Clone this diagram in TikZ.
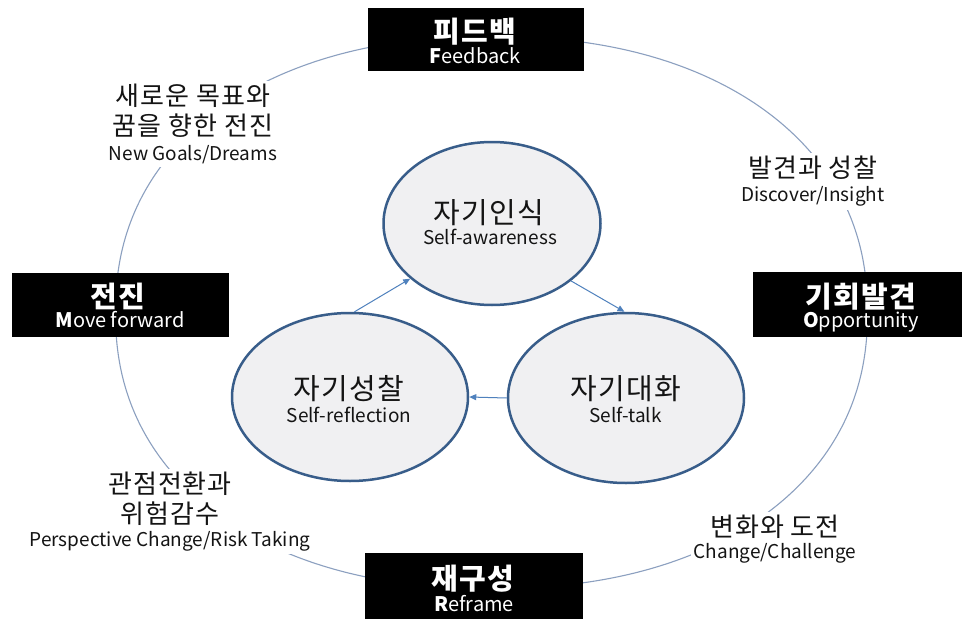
\documentclass[tikz,border=0pt]{standalone}
\usepackage{fontspec}
\setmainfont{Noto Sans CJK KR}
\newfontfamily\kof[LetterSpace=4]{Noto Sans CJK KR}
\usetikzlibrary{shapes.geometric,arrows.meta}
\definecolor{ellfill}{RGB}{240,240,242}
\definecolor{elldraw}{RGB}{56,93,138}
\definecolor{arrcol}{RGB}{79,129,189}
\definecolor{outercol}{RGB}{140,160,192}
\definecolor{txt}{RGB}{20,20,20}
\tikzset{
  outer/.style={draw=outercol, line width=1.1pt},
  blackbox/.style={fill=black, draw=none, inner sep=0pt},
  boxko/.style={text=white, font=\fontsize{29}{32}\selectfont\kof\bfseries, inner sep=0pt, text height=24pt, text depth=2pt},
  boxen/.style={text=white, font=\fontsize{20}{22}\selectfont, inner sep=0pt, text height=14.5pt, text depth=4pt},
  selfell/.style={ellipse, draw=elldraw, fill=ellfill, line width=2.5pt, inner sep=0pt},
  ellko/.style={text=txt, font=\fontsize{29}{32}\selectfont\kof, inner sep=0pt, text height=24pt, text depth=2pt},
  ellen/.style={text=txt, font=\fontsize{19}{22}\selectfont, inner sep=0pt, text height=14pt, text depth=4pt},
  lbl/.style={text=txt, fill=white, inner sep=3pt, align=center, font=\fontsize{26}{29.5}\selectfont\kof},
  arr/.style={draw=arrcol, line width=1pt, -{Triangle[length=7pt,width=6pt]}},
}
\newcommand{\enl}{\fontsize{19}{22}\selectfont\rmfamily}
\begin{document}
\begin{tikzpicture}[x=1pt,y=-1pt]
\useasboundingbox (0,0) rectangle (962,621);
\fill[white] (0,0) rectangle (962,621);
% outer cycle
\draw[outer] plot[domain=0.5:360.5, samples=181, smooth]
  ({491.5 + 376*cos(\x)*pow(abs(cos(\x)),-0.0909)}, {312.5 + 276*sin(\x)*pow(abs(sin(\x)),-0.0909)}) -- cycle;
% labels on the cycle
\node[lbl] (ng) at (193,124) {새로운 목표와\\꿈을 향한 전진\\[-4.5pt]{\enl New Goals/Dreams}};
\node[lbl] (di) at (813,181.5) {발견과 성찰\\[-5.5pt]{\enl Discover/Insight}};
\node[lbl] (pc) at (170,511.5) {관점전환과\\위험감수\\[-6.5pt]{\enl Perspective Change/Risk Taking}};
\node[lbl] (ch) at (775,539) {변화와 도전\\[-7pt]{\enl Change/Challenge}};
% black boxes
\node[blackbox, minimum width=216pt, minimum height=63pt] (fb) at (476,39.5) {};
\node[boxko] (fbk) at (475,31) {피드백};
\node[boxen] (fbe) at (475,58) {\textbf{F}eedback};
\node[blackbox, minimum width=217pt, minimum height=64pt] (mf) at (120.5,305) {};
\node[boxko] (mfk) at (118,296.5) {전진};
\node[boxen] (mfe) at (120,322) {\textbf{M}ove forward};
\node[blackbox, minimum width=209pt, minimum height=65pt] (op) at (857.5,304.5) {};
\node[boxko] (opk) at (861,296) {기회발견};
\node[boxen] (ope) at (861,322) {\textbf{O}pportunity};
\node[blackbox, minimum width=218pt, minimum height=66pt] (rf) at (474,586) {};
\node[boxko] (rfk) at (473,578.5) {재구성};
\node[boxen] (rfe) at (474,606) {\textbf{R}eframe};
% inner ellipses
\node[selfell, minimum width=217pt, minimum height=163pt] (aw) at (492,223.5) {};
\node[ellko] (awk) at (489,212.5) {자기인식};
\node[ellen] (awe) at (490,239.5) {Self-awareness};
\node[selfell, minimum width=236pt, minimum height=168pt] (refl) at (350,397) {};
\node[ellko] (reflk) at (349,388.5) {자기성찰};
\node[ellen] (refle) at (349,417) {Self-reflection};
\node[selfell, minimum width=236pt, minimum height=170pt] (talk) at (626,398) {};
\node[ellko] (talkk) at (626,388.5) {자기대화};
\node[ellen] (talke) at (625.5,417) {Self-talk};
% arrows
\draw[arr] (refl.87) -- (aw.214);
\draw[arr] (aw.324) -- (talk.91);
\draw[arr] (talk.west) -- (refl.east);
\end{tikzpicture}
\end{document}
